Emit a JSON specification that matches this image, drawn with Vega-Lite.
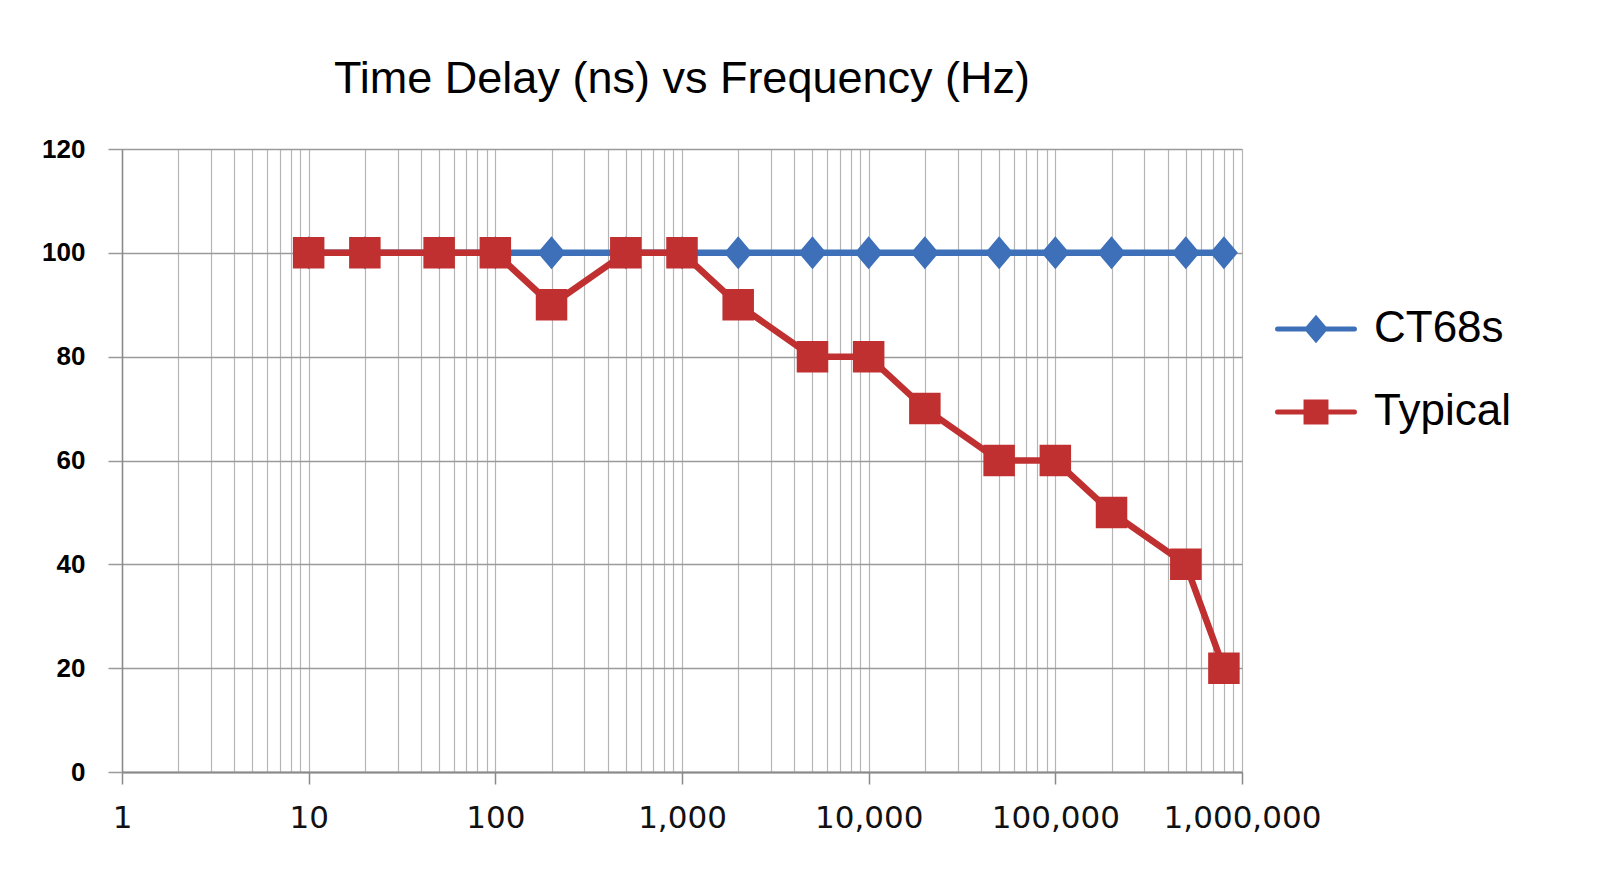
{
  "$schema": "https://vega.github.io/schema/vega-lite/v6.json",
  "width": 1120,
  "height": 623,
  "autosize": {"type": "none"},
  "padding": {"left": 122, "top": 149, "right": 358, "bottom": 101},
  "background": "#ffffff",
  "title": {"text": "Time Delay (ns) vs Frequency (Hz)", "font": "Liberation Sans", "fontSize": 45, "fontWeight": "normal", "color": "#000000", "anchor": "middle", "frame": "group", "offset": 34},
  "config": {"view": {"stroke": null}},
  "data": {"values": [
    {"f": 10, "v": 100, "s": "CT68s"},
    {"f": 20, "v": 100, "s": "CT68s"},
    {"f": 50, "v": 100, "s": "CT68s"},
    {"f": 100, "v": 100, "s": "CT68s"},
    {"f": 200, "v": 100, "s": "CT68s"},
    {"f": 500, "v": 100, "s": "CT68s"},
    {"f": 1000, "v": 100, "s": "CT68s"},
    {"f": 2000, "v": 100, "s": "CT68s"},
    {"f": 5000, "v": 100, "s": "CT68s"},
    {"f": 10000, "v": 100, "s": "CT68s"},
    {"f": 20000, "v": 100, "s": "CT68s"},
    {"f": 50000, "v": 100, "s": "CT68s"},
    {"f": 100000, "v": 100, "s": "CT68s"},
    {"f": 200000, "v": 100, "s": "CT68s"},
    {"f": 500000, "v": 100, "s": "CT68s"},
    {"f": 800000, "v": 100, "s": "CT68s"},
    {"f": 10, "v": 100, "s": "Typical"},
    {"f": 20, "v": 100, "s": "Typical"},
    {"f": 50, "v": 100, "s": "Typical"},
    {"f": 100, "v": 100, "s": "Typical"},
    {"f": 200, "v": 90, "s": "Typical"},
    {"f": 500, "v": 100, "s": "Typical"},
    {"f": 1000, "v": 100, "s": "Typical"},
    {"f": 2000, "v": 90, "s": "Typical"},
    {"f": 5000, "v": 80, "s": "Typical"},
    {"f": 10000, "v": 80, "s": "Typical"},
    {"f": 20000, "v": 70, "s": "Typical"},
    {"f": 50000, "v": 60, "s": "Typical"},
    {"f": 100000, "v": 60, "s": "Typical"},
    {"f": 200000, "v": 50, "s": "Typical"},
    {"f": 500000, "v": 40, "s": "Typical"},
    {"f": 800000, "v": 20, "s": "Typical"}
  ]},
  "encoding": {
    "x": {
      "field": "f", "type": "quantitative",
      "scale": {"type": "log", "domain": [1, 1000000], "nice": false},
      "axis": {
        "values": [1,2,3,4,5,6,7,8,9,10,20,30,40,50,60,70,80,90,100,200,300,400,500,600,700,800,900,1000,2000,3000,4000,5000,6000,7000,8000,9000,10000,20000,30000,40000,50000,60000,70000,80000,90000,100000,200000,300000,400000,500000,600000,700000,800000,900000,1000000],
        "title": null,
        "grid": true, "gridColor": "#b5b5b5", "gridWidth": 1.2,
        "domain": true, "domainColor": "#8a8a8a", "domainWidth": 2,
        "ticks": true, "tickSize": 12, "tickColor": "#8a8a8a", "tickWidth": 1.5,
        "tickOpacity": {"condition": {"test": "indexof([1,10,100,1000,10000,100000,1000000], datum.value) >= 0", "value": 1}, "value": 0},
        "labelExpr": "indexof([1,10,100,1000,10000,100000,1000000], datum.value) >= 0 ? format(datum.value, ',') : ''",
        "labelFont": "DejaVu Sans", "labelFontSize": 31, "labelColor": "#111111",
        "labelPadding": 19, "labelFlush": false, "labelOverlap": false
      }
    },
    "y": {
      "field": "v", "type": "quantitative",
      "scale": {"domain": [0, 120], "nice": false},
      "axis": {
        "values": [0, 20, 40, 60, 80, 100, 120],
        "title": null,
        "grid": true, "gridColor": "#9a9a9a", "gridWidth": 1.5,
        "domain": true, "domainColor": "#8a8a8a", "domainWidth": 1.5,
        "ticks": true, "tickSize": 14, "tickColor": "#9a9a9a", "tickWidth": 1.5,
        "labelFont": "Liberation Sans", "labelFontWeight": "bold", "labelFontSize": 26, "labelColor": "#000000",
        "labelPadding": 23
      }
    },
    "color": {
      "field": "s", "type": "nominal",
      "scale": {"domain": ["CT68s", "Typical"], "range": ["#3d70b8", "#c03030"]},
      "legend": {
        "title": null, "orient": "none", "legendX": 1172, "legendY": 158,
        "labelFont": "Liberation Sans", "labelFontSize": 44, "labelColor": "#000000",
        "symbolSize": 361, "labelOffset": 36, "rowPadding": 39, "padding": 0,
        "encode": {"symbols": {"update": {
          "stroke": {"scale": "color", "field": "value"},
          "fill": {"scale": "color", "field": "value"},
          "strokeWidth": {"value": 5},
          "strokeCap": {"value": "round"},
          "opacity": {"value": 1}
        }}}
      }
    }
  },
  "layer": [
    {"mark": {"type": "line", "strokeWidth": 6.5, "interpolate": "linear"}},
    {
      "mark": {"type": "point", "filled": true, "opacity": 1, "strokeWidth": 0, "size": 900},
      "encoding": {
        "shape": {
          "field": "s", "type": "nominal",
          "scale": {"domain": ["CT68s", "Typical"], "range": ["M-4.05,0H4.05M0,-1.1L0.93,0L0,1.1L-0.93,0Z", "M-4.05,0H4.05M-1.05,-1.05H1.05V1.05H-1.05Z"]},
          "legend": {
            "title": null, "orient": "none", "legendX": 1172, "legendY": 158,
            "labelFont": "Liberation Sans", "labelFontSize": 44, "labelColor": "#000000",
            "symbolSize": 361, "labelOffset": 36, "rowPadding": 39, "padding": 0
          }
        }
      }
    }
  ]
}
